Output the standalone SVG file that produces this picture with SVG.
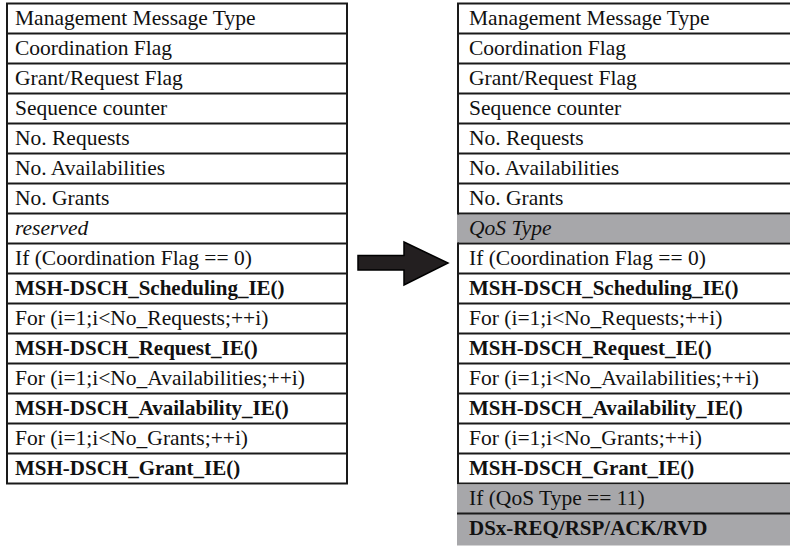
<svg xmlns="http://www.w3.org/2000/svg" width="790" height="547" viewBox="0 0 790 547" font-family="'Liberation Serif', 'Times New Roman', Times, 'DejaVu Serif', serif">
  <style>
    text { font-family: "Liberation Serif", "Times New Roman", Times, "DejaVu Serif", serif; font-size: 21.5px; fill: #111; }
    .b { font-weight: bold; font-size: 21px; }
    .i { font-style: italic; }
    .cell { fill: #ffffff; stroke: #1a1a1a; stroke-width: 2; }
    .grey { fill: #a7a7aa; stroke: none; }
    .sep { stroke: #1a1a1a; stroke-width: 2; }
  </style>
  <rect x="0" y="0" width="790" height="547" fill="#ffffff"/>

  <g id="table-left">
    <rect class="cell" x="7" y="3.5" width="340" height="480"/>
    <g class="rows">
      <line class="sep" x1="7" y1="33.5" x2="347" y2="33.5"/>
      <line class="sep" x1="7" y1="63.5" x2="347" y2="63.5"/>
      <line class="sep" x1="7" y1="93.5" x2="347" y2="93.5"/>
      <line class="sep" x1="7" y1="123.5" x2="347" y2="123.5"/>
      <line class="sep" x1="7" y1="153.5" x2="347" y2="153.5"/>
      <line class="sep" x1="7" y1="183.5" x2="347" y2="183.5"/>
      <line class="sep" x1="7" y1="213.5" x2="347" y2="213.5"/>
      <line class="sep" x1="7" y1="243.5" x2="347" y2="243.5"/>
      <line class="sep" x1="7" y1="273.5" x2="347" y2="273.5"/>
      <line class="sep" x1="7" y1="303.5" x2="347" y2="303.5"/>
      <line class="sep" x1="7" y1="333.5" x2="347" y2="333.5"/>
      <line class="sep" x1="7" y1="363.5" x2="347" y2="363.5"/>
      <line class="sep" x1="7" y1="393.5" x2="347" y2="393.5"/>
      <line class="sep" x1="7" y1="423.5" x2="347" y2="423.5"/>
      <line class="sep" x1="7" y1="453.5" x2="347" y2="453.5"/>
    </g>
    <g id="L1"><text x="15" y="25">Management Message Type</text></g>
    <g id="L2"><text x="15" y="55">Coordination Flag</text></g>
    <g id="L3"><text x="15" y="85">Grant/Request Flag</text></g>
    <g id="L4"><text x="15" y="115">Sequence counter</text></g>
    <g id="L5"><text x="15" y="145">No. Requests</text></g>
    <g id="L6"><text x="15" y="175">No. Availabilities</text></g>
    <g id="L7"><text x="15" y="205">No. Grants</text></g>
    <g id="L8"><text class="i" x="15" y="235">reserved</text></g>
    <g id="L9"><text x="15" y="265">If (Coordination Flag == 0)</text></g>
    <g id="L10"><text class="b" x="15" y="295">MSH-DSCH_Scheduling_IE()</text></g>
    <g id="L11"><text x="15" y="325">For (i=1;i&lt;No_Requests;++i)</text></g>
    <g id="L12"><text class="b" x="15" y="355">MSH-DSCH_Request_IE()</text></g>
    <g id="L13"><text x="15" y="385">For (i=1;i&lt;No_Availabilities;++i)</text></g>
    <g id="L14"><text class="b" x="15" y="415">MSH-DSCH_Availability_IE()</text></g>
    <g id="L15"><text x="15" y="445">For (i=1;i&lt;No_Grants;++i)</text></g>
    <g id="L16"><text class="b" x="15" y="475">MSH-DSCH_Grant_IE()</text></g>
  </g>

  <g id="connectors">
    <polygon points="358,255.5 404,255.5 404,242 448,263 404,285 404,270 358,270" fill="#231f20" stroke="#000" stroke-width="1.5" stroke-linejoin="miter"/>
  </g>

  <g id="table-right">
    <rect class="cell" x="458" y="3.5" width="340" height="480"/>
    <rect class="grey" x="457" y="214.5" width="340" height="28"/>
    <rect class="grey" x="457" y="484.5" width="340" height="61"/>
    <g class="rows">
      <line class="sep" x1="458" y1="33.5" x2="798" y2="33.5"/>
      <line class="sep" x1="458" y1="63.5" x2="798" y2="63.5"/>
      <line class="sep" x1="458" y1="93.5" x2="798" y2="93.5"/>
      <line class="sep" x1="458" y1="123.5" x2="798" y2="123.5"/>
      <line class="sep" x1="458" y1="153.5" x2="798" y2="153.5"/>
      <line class="sep" x1="458" y1="183.5" x2="798" y2="183.5"/>
      <line class="sep" x1="458" y1="213.5" x2="798" y2="213.5"/>
      <line class="sep" x1="458" y1="243.5" x2="798" y2="243.5"/>
      <line class="sep" x1="458" y1="273.5" x2="798" y2="273.5"/>
      <line class="sep" x1="458" y1="303.5" x2="798" y2="303.5"/>
      <line class="sep" x1="458" y1="333.5" x2="798" y2="333.5"/>
      <line class="sep" x1="458" y1="363.5" x2="798" y2="363.5"/>
      <line class="sep" x1="458" y1="393.5" x2="798" y2="393.5"/>
      <line class="sep" x1="458" y1="423.5" x2="798" y2="423.5"/>
      <line class="sep" x1="458" y1="453.5" x2="798" y2="453.5"/>
      <line class="sep" x1="457" y1="513.5" x2="798" y2="513.5"/>
    </g>
    <g id="R1"><text x="469" y="25">Management Message Type</text></g>
    <g id="R2"><text x="469" y="55">Coordination Flag</text></g>
    <g id="R3"><text x="469" y="85">Grant/Request Flag</text></g>
    <g id="R4"><text x="469" y="115">Sequence counter</text></g>
    <g id="R5"><text x="469" y="145">No. Requests</text></g>
    <g id="R6"><text x="469" y="175">No. Availabilities</text></g>
    <g id="R7"><text x="469" y="205">No. Grants</text></g>
    <g id="R8"><text class="i" x="469" y="235">QoS Type</text></g>
    <g id="R9"><text x="469" y="265">If (Coordination Flag == 0)</text></g>
    <g id="R10"><text class="b" x="469" y="295">MSH-DSCH_Scheduling_IE()</text></g>
    <g id="R11"><text x="469" y="325">For (i=1;i&lt;No_Requests;++i)</text></g>
    <g id="R12"><text class="b" x="469" y="355">MSH-DSCH_Request_IE()</text></g>
    <g id="R13"><text x="469" y="385">For (i=1;i&lt;No_Availabilities;++i)</text></g>
    <g id="R14"><text class="b" x="469" y="415">MSH-DSCH_Availability_IE()</text></g>
    <g id="R15"><text x="469" y="445">For (i=1;i&lt;No_Grants;++i)</text></g>
    <g id="R16"><text class="b" x="469" y="475">MSH-DSCH_Grant_IE()</text></g>
    <g id="R17"><text x="469" y="505">If (QoS Type == 11)</text></g>
    <g id="R18"><text class="b" x="469" y="535">DSx-REQ/RSP/ACK/RVD</text></g>
  </g>
</svg>
